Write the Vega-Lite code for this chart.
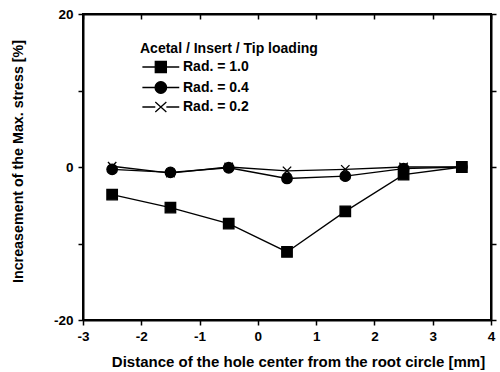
{
  "$schema": "https://vega.github.io/schema/vega-lite/v6.json",
  "width": 408,
  "height": 306,
  "autosize": {"type": "none"},
  "padding": {"left": 83, "top": 14, "right": 9, "bottom": 52},
  "background": "white",
  "config": {
    "view": {"stroke": "black", "strokeWidth": 2},
    "font": "Liberation Sans",
    "axis": {
      "grid": false,
      "domainColor": "black",
      "domainWidth": 2,
      "tickColor": "black",
      "tickWidth": 1.5,
      "tickSize": 5,
      "labelFont": "Liberation Sans",
      "labelFontWeight": "bold",
      "labelFontSize": 13.5,
      "labelColor": "black",
      "titleFont": "Liberation Sans",
      "titleFontWeight": "bold",
      "titleColor": "black"
    }
  },
  "data": {
    "values": [
      {"x": -2.5, "y": -3.6, "series": "Rad. = 1.0"},
      {"x": -1.5, "y": -5.3, "series": "Rad. = 1.0"},
      {"x": -0.5, "y": -7.4, "series": "Rad. = 1.0"},
      {"x": 0.5, "y": -11.1, "series": "Rad. = 1.0"},
      {"x": 1.5, "y": -5.8, "series": "Rad. = 1.0"},
      {"x": 2.5, "y": -1.0, "series": "Rad. = 1.0"},
      {"x": 3.5, "y": 0.0, "series": "Rad. = 1.0"},
      {"x": -2.5, "y": -0.3, "series": "Rad. = 0.4"},
      {"x": -1.5, "y": -0.7, "series": "Rad. = 0.4"},
      {"x": -0.5, "y": -0.1, "series": "Rad. = 0.4"},
      {"x": 0.5, "y": -1.5, "series": "Rad. = 0.4"},
      {"x": 1.5, "y": -1.2, "series": "Rad. = 0.4"},
      {"x": 2.5, "y": -0.2, "series": "Rad. = 0.4"},
      {"x": 3.5, "y": 0.0, "series": "Rad. = 0.4"},
      {"x": -2.5, "y": 0.1, "series": "Rad. = 0.2"},
      {"x": -1.5, "y": -0.8, "series": "Rad. = 0.2"},
      {"x": -0.5, "y": 0.0, "series": "Rad. = 0.2"},
      {"x": 0.5, "y": -0.5, "series": "Rad. = 0.2"},
      {"x": 1.5, "y": -0.3, "series": "Rad. = 0.2"},
      {"x": 2.5, "y": 0.0, "series": "Rad. = 0.2"},
      {"x": 3.5, "y": 0.0, "series": "Rad. = 0.2"}
    ]
  },
  "layer": [
    {
      "layer": [
        {
          "mark": {"type": "line", "color": "black", "strokeWidth": 1.3},
          "encoding": {
            "x": {"field": "x", "type": "quantitative", "scale": {"domain": [-3, 4], "nice": false},
              "axis": {"orient": "bottom", "title": "Distance of the hole center from the root circle [mm]",
                "values": [-3, -2.5, -2, -1.5, -1, -0.5, 0, 0.5, 1, 1.5, 2, 2.5, 3, 3.5, 4],
                "labelExpr": "datum.value % 1 === 0 ? '' + datum.value : ''",
                "labelPadding": 4, "labelFlush": false,
                "titleFontSize": 15, "titleBaseline": "middle", "titleAnchor": "middle", "titleX": 215, "titleY": 41}},
            "y": {"field": "y", "type": "quantitative", "scale": {"domain": [-20, 20], "nice": false},
              "axis": {"orient": "left", "title": "Increasement of the Max. stress [%]",
                "values": [-20, -10, 0, 10, 20],
                "labelExpr": "datum.value % 20 === 0 ? '' + datum.value : ''",
                "labelPadding": 5, "labelFlush": false,
                "titleFontSize": 14.3, "titleX": -65, "titleY": 147, "titleBaseline": "middle", "titleAngle": -90}},
            "detail": {"field": "series"}
          }
        },
        {
          "mark": {"type": "point", "filled": true, "fill": "black", "stroke": "black", "strokeWidth": 1.3, "opacity": 1},
          "encoding": {
            "x": {"field": "x", "type": "quantitative"},
            "y": {"field": "y", "type": "quantitative"},
            "shape": {
              "field": "series", "type": "nominal",
              "scale": {"domain": ["Rad. = 1.0", "Rad. = 0.4", "Rad. = 0.2"],
                "range": ["square", "circle", "M-0.8,-0.8L0.8,0.8M-0.8,0.8L0.8,-0.8"]},
              "legend": null
            },
            "size": {"value": 110}
          }
        }
      ]
    },
    {
      "transform": [{"filter": "datum.x > 100"}],
      "mark": {"type": "point", "filled": true, "fill": "black", "stroke": "black", "strokeWidth": 1.3, "opacity": 1},
      "encoding": {
        "x": {"field": "x", "type": "quantitative",
          "axis": {"orient": "top", "title": null, "labels": false, "tickSize": -5, "values": [-3, -2, -1, 0, 1, 2, 3, 4]}},
        "y": {"field": "y", "type": "quantitative",
          "axis": {"orient": "right", "title": null, "labels": false, "tickSize": 5, "values": [-20, -10, 0, 10, 20]}},
        "shape": {
          "field": "series", "type": "nominal",
          "scale": {"domain": ["Rad. = 1.0", "Rad. = 0.4", "Rad. = 0.2"],
            "range": [
              "M-1,0L1.8,0M1.8,-1.2L4.2,-1.2L4.2,1.2L1.8,1.2ZM4.2,0L7,0",
              "M-1,0L1.75,0M1.75,0A1.25,1.25,0,1,1,4.25,0A1.25,1.25,0,1,1,1.75,0M4.25,0L7,0",
              "M-1,0L1.8,0M1.8,-1.1L4.2,1.1M1.8,1.1L4.2,-1.1M4.2,0L7,0"
            ]},
          "legend": {
            "title": "Acetal / Insert / Tip loading",
            "orient": "none",
            "legendX": 57,
            "legendY": 28,
            "titleFont": "Liberation Sans",
            "titleFontWeight": "bold",
            "titleFontSize": 14,
            "titleColor": "black",
            "titlePadding": 4,
            "labelFont": "Liberation Sans",
            "labelFontWeight": "bold",
            "labelFontSize": 14,
            "labelColor": "black",
            "labelOffset": 29,
            "rowPadding": 2.5,
            "symbolSize": 85,
            "symbolFillColor": "black",
            "symbolStrokeColor": "black",
            "symbolStrokeWidth": 1.3,
            "symbolOpacity": 1,
            "encoding": {
              "symbols": {
                "size": {"value": 85},
                "fill": {"value": "black"},
                "stroke": {"value": "black"},
                "strokeWidth": {"value": 1.3}
              }
            }
          }
        },
        "size": {"value": 85}
      }
    }
  ],
  "resolve": {"axis": {"x": "independent", "y": "independent"}, "scale": {"shape": "independent"}}
}
